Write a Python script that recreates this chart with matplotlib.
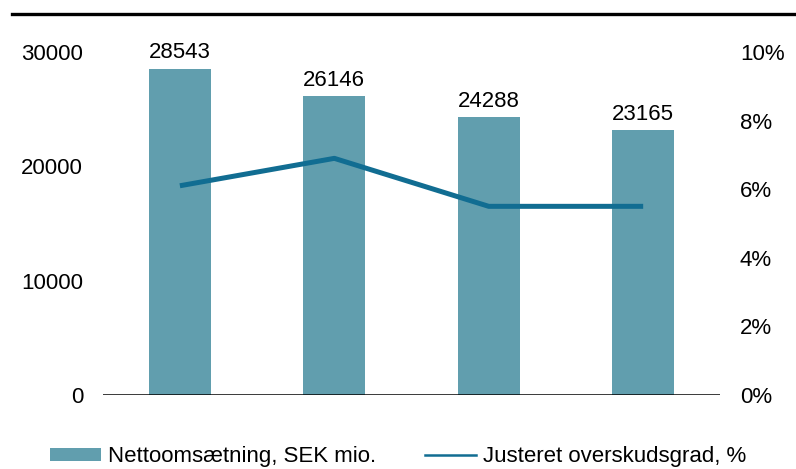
import matplotlib.pyplot as plt
from matplotlib.lines import Line2D
from matplotlib.ticker import FuncFormatter

plt.rcParams['font.family'] = ['Liberation Sans', 'DejaVu Sans']

# data
periods = ["P1", "P2", "P3", "P4"]
revenue = [28543, 26146, 24288, 23165]          # Nettoomsætning, SEK mio.
margin = [6.1, 6.9, 5.5, 5.5]                   # Justeret overskudsgrad, %
left_ticks = [0, 10000, 20000, 30000]
right_ticks = [0, 2, 4, 6, 8, 10]

bar_color = "#619EAE"
line_color = "#116D92"

fig = plt.figure(figsize=(7.96, 4.69), dpi=100)
ax = fig.add_axes([0.129, 0.158, 0.776, 0.731])
ax2 = ax.twinx()

x = range(len(periods))
bars = ax.bar(x, revenue, width=0.4, color=bar_color, zorder=2,
              label="Nettoomsætning, SEK mio.")
ax.bar_label(bars, labels=[str(v) for v in revenue], padding=4, fontsize=16)
ax.axhline(0, color="black", lw=1.8, zorder=3)

ax2.plot(x, margin, color=line_color, lw=3.6, solid_capstyle="butt")

ax.set_xlim(-0.5, 3.5)
ax.set_ylim(0, 30000)
ax.set_yticks(left_ticks)
ax2.set_ylim(0, 10)
ax2.set_yticks(right_ticks)
ax2.yaxis.set_major_formatter(FuncFormatter(lambda v, p: f"{v:.0f}%"))

for a in (ax, ax2):
    for s in a.spines.values():
        s.set_visible(False)
    a.tick_params(length=0, labelsize=16)
ax.set_xticks([])
ax.tick_params(axis="y", pad=14)
ax2.tick_params(axis="y", pad=14)

# thick rule along the top
fig.add_artist(Line2D([0.015, 1.0], [0.97, 0.97], color="black", lw=2.4))

line_handle = Line2D([], [], color=line_color, lw=1.8)
fig.legend([bars, line_handle],
           ["Nettoomsætning, SEK mio.", "Justeret overskudsgrad, %"],
           loc="center", bbox_to_anchor=(0.5, 0.026), ncol=2, frameon=False,
           fontsize=16, handlelength=2.3, handleheight=0.5, handletextpad=0.3,
           columnspacing=2.2)

fig.savefig("out.png", dpi=100)
